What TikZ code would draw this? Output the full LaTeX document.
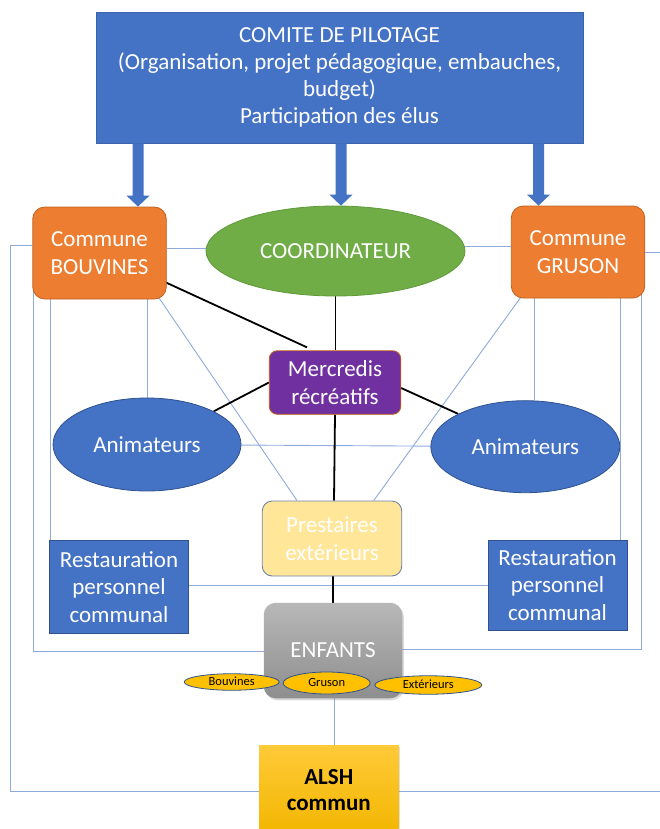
\documentclass[tikz,border=0pt]{standalone}
\usepackage{fontspec}
\setmainfont{Carlito}
\usetikzlibrary{shapes.geometric,calc,backgrounds,shadows}
\definecolor{cblue}{HTML}{4472C4}
\definecolor{cbluedark}{HTML}{2F528F}
\definecolor{cbluemid}{HTML}{3B64AD}
\definecolor{corange}{HTML}{ED7D31}
\definecolor{corangedark}{HTML}{C0601F}
\definecolor{cgreen}{HTML}{70AD47}
\definecolor{cgreendark}{HTML}{5E9A38}
\definecolor{cpurple}{HTML}{7030A0}
\definecolor{cpurpleedge}{HTML}{C55A11}
\definecolor{cyellow}{HTML}{FFE699}
\definecolor{cgreyblue}{HTML}{6E82AC}
\definecolor{cgreyt}{HTML}{B8B8B8}
\definecolor{cgreyb}{HTML}{8E8E8E}
\definecolor{cgold}{HTML}{FFC000}
\definecolor{cgoldt}{HTML}{FFCA38}
\definecolor{cgoldb}{HTML}{F2B600}
\definecolor{lineblue}{HTML}{8FAADC}
\newcommand\blockarr[2]{\fill[cblue] let \p1=(#1), \p2=(#2) in
  (\x1-5.5pt,\y1) -- (\x1+5.5pt,\y1) -- (\x1+5.5pt,\y2+11pt) -- (\x1+11.5pt,\y2+11pt)
  -- (\x1,\y2) -- (\x1-11.5pt,\y2+11pt) -- (\x1-5.5pt,\y2+11pt) -- cycle;}
\begin{document}
\begin{tikzpicture}[x=1pt,y=-1pt,
  tl/.style={draw=lineblue,line width=0.9pt},
  bl/.style={draw=black,line width=1.8pt},
  base/.style={inner sep=0pt,align=center,text=white,font=\fontsize{23}{27.5}\selectfont},
  sq/.style={base,rectangle,fill=cblue,draw=cbluedark,line width=0.8pt},
  orng/.style={base,rectangle,rounded corners=12pt,fill=corange,draw=corangedark,line width=0.8pt,minimum width=133.5pt,minimum height=92pt},
  ell/.style={base,ellipse,line width=0.8pt},
  small/.style={ellipse,inner sep=0pt,fill=cgold,draw=cbluedark,line width=0.8pt,text height=8pt,text depth=2pt,font=\fontsize{12.5}{14}\selectfont,text=black}
]
\useasboundingbox (0,0) rectangle (660,829);

% nodes
\node[sq,draw=cbluemid,minimum width=487pt,minimum height=131pt,font=\fontsize{23}{27}\selectfont] (top) at (339.5,77.5)
  {COMITE DE PILOTAGE\\(Organisation, projet pédagogique, embauches,\\budget)\\Participation des élus};
\node[orng] (bouv) at (99.5,253) {Commune\\BOUVINES};
\node[orng] (grus) at (578,252) {Commune\\GRUSON};
\node[ell,fill=cgreen,draw=cgreendark,minimum width=259pt,minimum height=90pt] (coord) at (335.5,251) {COORDINATEUR};
\node[base,rectangle,rounded corners=8pt,fill=cpurple,draw=cpurpleedge,line width=0.8pt,minimum width=131.5pt,minimum height=63.5pt] (merc) at (335,382.5) {Mercredis\\récréatifs};
\node[ell,fill=cblue,draw=cbluedark,minimum width=188pt,minimum height=93pt] (animL) at (147,444.5) {Animateurs};
\node[ell,fill=cblue,draw=cbluedark,minimum width=189pt,minimum height=92pt] (animR) at (525.3,446.7) {Animateurs};
\node[base,rectangle,rounded corners=10pt,fill=cyellow,draw=cgreyblue,line width=0.9pt,minimum width=139.5pt,minimum height=75pt] (prest) at (332,538.5) {Prestaires\\extérieurs};
\node[sq,minimum width=138.5pt,minimum height=92.5pt] (restL) at (119,587) {Restauration\\personnel\\communal};
\node[sq,minimum width=139pt,minimum height=90pt] (restR) at (557.5,585) {Restauration\\personnel\\communal};
\node[base,rectangle,rounded corners=12pt,top color=cgreyt,bottom color=cgreyb,draw=none,
  drop shadow={opacity=0.3,shadow xshift=1.5pt,shadow yshift=-2pt},
  minimum width=138.5pt,minimum height=95.5pt] (enf) at (333,650.5) {ENFANTS};
\node[small,minimum width=95pt,minimum height=16.5pt] (sb) at (231.7,682) {Bouvines};
\node[small,minimum width=87pt,minimum height=22pt] (sg) at (326.7,683) {Gruson};
\node[small,minimum width=107pt,minimum height=18.5pt] (se) at (428.3,685) {Extérieurs};
\node[inner sep=0pt,align=center,font=\bfseries\fontsize{23}{26.5}\selectfont,text=black,
  top color=cgoldt,bottom color=cgoldb,
  drop shadow={opacity=0.25,shadow xshift=1.5pt,shadow yshift=-1.5pt},
  minimum width=139.5pt,minimum height=90pt] (alsh) at (328.8,790) {ALSH\\commun};

% block arrows
\blockarr{top.south -| 138,0}{bouv.north -| 138,0}
\blockarr{top.south -| 341,0}{coord.north -| 341,0}
\blockarr{top.south -| 538.5,0}{grus.north -| 538.5,0}

\begin{pgfonlayer}{background}
% thin blue connectors
\draw[tl] (bouv.east |- 0,248) -- (coord.west |- 0,248);
\draw[tl] (coord.east |- 0,246) -- (grus.west |- 0,246);
\draw[tl] (bouv.west |- 0,245) -- (10,245) -- (10,791) -- (alsh.west |- 0,791);
\draw[tl] (grus.east |- 0,252) -- (662,252);
\draw[tl] (alsh.east |- 0,791) -- (662,791);
\draw[tl] (bouv.west -| 33.5,0) -- (33.5,651) -- (enf.west |- 0,651);
\draw[tl] (enf.east |- 0,649) -- (641.5,649) -- (grus.center -| 641.5,0);
\draw[tl] (bouv.center -| 50.5,0) -- (restL.north -| 50.5,0);
\draw[tl] (bouv.center -| animL.north) -- (animL.north);
\draw[tl] ($(bouv.south -| 160,0)!-12pt!(prest.north -| 297,0)$) -- (prest.north -| 297,0);
\draw[tl] ($(grus.south -| 520,0)!-12pt!(prest.north -| 373.7,0)$) -- (prest.north -| 373.7,0);
\draw[tl] (grus.center -| 534.5,0) -- (animR.north -| 534.5,0);
\draw[tl] (grus.center -| 620,0) -- (restR.north -| 620,0);
\draw[tl] (animL) -- (animR);
\draw[tl] (restL.center |- 0,585) -- (restR.center |- 0,585);
\draw[tl] (enf.center -| 334,0) -- (alsh.center -| 334,0);
% black connectors
\draw[bl] ($(bouv.east |- 0,283)!-10pt!(merc.north -| 307,0)$) -- ($(merc.north -| 307,0)+(0,-3)$);
\draw[bl] (coord.south) -- (coord.south |- merc.north);
\draw[bl] (merc.west) -- (animL.north east);
\draw[bl] (merc.east |- 0,388) -- (animR.north west);
\draw[bl] (merc.south) -- (prest.north -| 334,0);
\draw[bl] (prest.south -| 333,0) -- (enf.north -| 333,0);
\end{pgfonlayer}
\end{tikzpicture}
\end{document}
